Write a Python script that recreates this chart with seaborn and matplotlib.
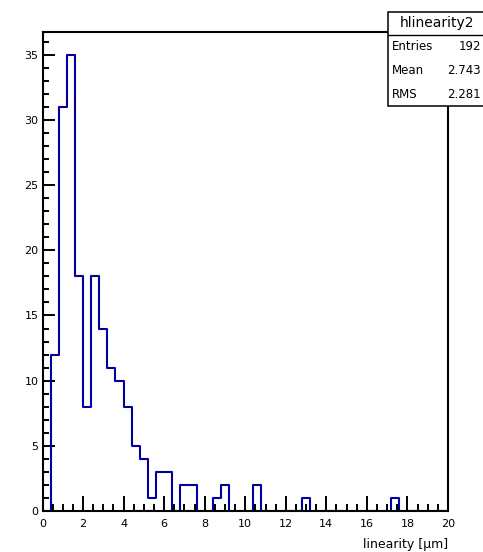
import numpy as np
import pandas as pd
import matplotlib
matplotlib.use("Agg")
import matplotlib.pyplot as plt
import seaborn as sns
from matplotlib.patches import Rectangle
from matplotlib.lines import Line2D
from matplotlib.ticker import MultipleLocator

# 50 bins of width 0.4 between 0 and 20
bin_width = 0.4
bin_range = (0.0, 20.0)
counts = [0, 12, 31, 35, 18, 8, 18, 14, 11, 10,
          8, 5, 4, 1, 3, 3, 0, 2, 2, 0,
          0, 1, 2, 0, 0, 0, 2, 0, 0, 0,
          0, 0, 1, 0, 0, 0, 0, 0, 0, 0,
          0, 0, 0, 1, 0, 0, 0, 0, 0, 0]

hist_name = "hlinearity2"
stat_names = ["Entries", "Mean", "RMS"]
stat_values = ["192", "2.743", "2.281"]
x_label = "linearity [\u00b5m]"

sns.set_style("ticks")
plt.rcParams["font.family"] = ["DejaVu Sans"]
plt.rcParams.update({
    "text.color": "black",
    "axes.labelcolor": "black",
    "xtick.color": "black",
    "ytick.color": "black",
})

W, H = 483, 552
fig = plt.figure(figsize=(W / 100, H / 100), dpi=100)
fig.patch.set_facecolor("white")


def fx(px):
    return px / W


def fy(py):
    return 1 - py / H


ax = fig.add_axes([fx(42.5), fy(511), fx(448) - fx(42.5), fy(32) - fy(511)])

n_bins = len(counts)
df = pd.DataFrame({
    "linearity": bin_range[0] + bin_width * (np.arange(n_bins) + 0.5),
    "n": counts,
})
sns.histplot(data=df, x="linearity", weights="n", binwidth=bin_width,
             binrange=bin_range, element="step", fill=False,
             color="#0000a0", linewidth=1.5, ax=ax)

ax.set_xlim(*bin_range)
ax.set_ylim(0, 36.75)
ax.set_ylabel("")
ax.set_xlabel(x_label, loc="right", fontsize=9, labelpad=6)

ax.xaxis.set_major_locator(MultipleLocator(2))
ax.xaxis.set_minor_locator(MultipleLocator(0.5))
ax.yaxis.set_major_locator(MultipleLocator(5))
ax.yaxis.set_minor_locator(MultipleLocator(1))

ax.tick_params(axis="x", which="major", direction="in", length=10.5,
               width=1.4, labelsize=8, pad=6, bottom=True, top=False,
               color="black", labelcolor="black")
ax.tick_params(axis="x", which="minor", direction="in", length=5.3,
               width=1.4, bottom=True, top=False, color="black")
ax.tick_params(axis="y", which="major", direction="in", length=8.6,
               width=1.4, labelsize=8, pad=3, left=True, right=False,
               color="black", labelcolor="black")
ax.tick_params(axis="y", which="minor", direction="in", length=4.3,
               width=1.4, left=True, right=False, color="black")

for side in ["left", "bottom", "top", "right"]:
    ax.spines[side].set_visible(True)
    ax.spines[side].set_color("black")
    ax.spines[side].set_linewidth(1.5)

# statistics box
bx0, bx1, by0, by1, bsep = 388, 487, 12, 106, 35
fig.add_artist(Rectangle((fx(bx0), fy(by1)), fx(bx1) - fx(bx0), fy(by0) - fy(by1),
                         transform=fig.transFigure, facecolor="white",
                         edgecolor="black", linewidth=1.1, zorder=5))
fig.add_artist(Line2D([fx(bx0), fx(bx1)], [fy(bsep), fy(bsep)],
                      transform=fig.transFigure, color="black",
                      linewidth=1.0, zorder=6))
fig.text(fx(437), fy(23), hist_name, ha="center", va="center",
         fontsize=10, zorder=7)
for i, (name, val) in enumerate(zip(stat_names, stat_values)):
    yy = fy(47 + 23.5 * i)
    fig.text(fx(392), yy, name, ha="left", va="center", fontsize=8.5, zorder=7)
    fig.text(fx(481), yy, val, ha="right", va="center", fontsize=8.5, zorder=7)

fig.savefig("out.png", dpi=100, facecolor="white")
